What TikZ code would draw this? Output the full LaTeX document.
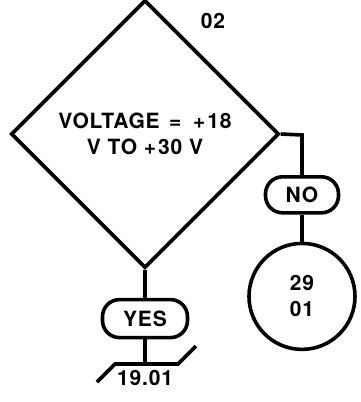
\documentclass[tikz,border=0pt]{standalone}
\usepackage{fontspec}
\setmainfont{TeX Gyre Heros}[LetterSpace=4]
\usepackage{tikz}
\usetikzlibrary{shapes.geometric, positioning}
\tikzset{
  decision/.style={diamond, aspect=1, minimum width=268pt, minimum height=268pt, inner sep=0pt, align=center, draw=black},
  answer/.style={rectangle, rounded corners=17pt, minimum height=36pt, inner sep=0pt, draw=black},
  onpage/.style={circle, minimum size=106pt, inner sep=0pt, align=center, draw=black}
}

\begin{document}
\begin{tikzpicture}[x=1pt, y=1pt, line width=3.6pt, every node/.style={font=\bfseries\fontsize{21}{26}\selectfont}]
    \useasboundingbox (0,0) rectangle (360,-402);

    \node (check) [decision] at (145,-134) {VOLTAGE\hspace{0.45em}=\hspace{0.55em}+\hspace{0.1em}18\\ V TO +\hspace{0.1em}30 V};
    \node (step) at (213,-21) {02};

    \coordinate (turn) at (302,-135);
    \node (no) [answer, minimum width=73pt, below=40pt of turn] {NO};
    \node (goto) [onpage, below=27pt of no] {29\\ 01};

    \node (yes) [answer, minimum width=85pt, minimum height=38pt, below=28pt of check] {YES};
    \coordinate (page) at (145,-364);
    \node (ref) [below=1pt of page] {19.01};

    % Connectors
    \draw (check.east) -- (turn) -- (no);
    \draw (no) -- (goto);
    \draw (check.south) -- (yes);
    \draw (yes) -- (page);
    \draw ([xshift=-48pt,yshift=-18pt]page) -- ([xshift=-30pt]page) -- ([xshift=33pt]page) -- ([xshift=51pt,yshift=18pt]page);
\end{tikzpicture}
\end{document}
